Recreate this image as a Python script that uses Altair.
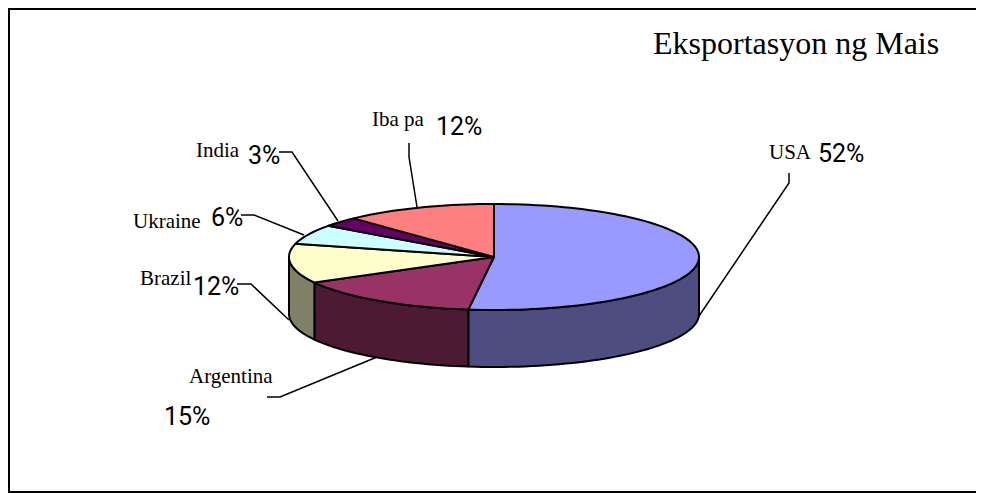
import numpy as np
import altair as alt

names = ["USA", "Argentina", "Brazil", "Ukraine", "India", "Iba pa"]
shares = [52, 15, 12, 6, 3, 12]
top_colors = ["#9999FF", "#993366", "#FFFFCC", "#CCFFFF", "#660066", "#FF8080"]
side_colors = ["#4D4D80", "#4D1A33", "#808066", "#668080", "#330033", "#804040"]
title_text = "Eksportasyon ng Mais"

MARGIN = 8
CX, CY = 494 - MARGIN, 257 - MARGIN
RX, RY, DEPTH = 205.0, 53.0, 57.0
K = RY / RX
D = DEPTH / RX

name_x = [769, 189, 140, 133, 196, 372]
name_y = [159, 383, 285, 228, 157, 126]
pct_x = [818, 164, 193, 211, 248, 436]
pct_y = [162, 425, 295, 226, 164, 135]
leaders = [
    [(789, 173), (789, 183), (699, 316)],
    [(267, 397), (280, 397), (377, 357)],
    [(237, 284), (251, 284), (289, 320)],
    [(241, 215), (254, 215), (304, 235)],
    [(279, 152), (292, 152), (338, 221)],
    [(409, 143), (409, 157), (417, 207)],
]


def rim(a0, a1, drop=0.0):
    n = max(2, int(abs(a1 - a0) / 2) + 2)
    return [[float(np.sin(np.radians(a))), float(K * np.cos(np.radians(a)) - drop)]
            for a in np.linspace(a0, a1, n)]


edges = np.cumsum([0] + shares) * 3.6
tops, sides = [], []
for i, nm in enumerate(names):
    a0, a1 = edges[i], edges[i + 1]
    ring = [[0.0, 0.0]] + rim(a0, a1) + [[0.0, 0.0]]
    tops.append({"type": "Feature", "properties": {"name": nm, "fill": top_colors[i]},
                 "geometry": {"type": "Polygon", "coordinates": [ring]}})
    s0, s1 = max(a0, 90.0), min(a1, 270.0)
    if s0 < s1:
        up = rim(s0, s1)
        down = rim(s1, s0, D)
        sides.append({"type": "Feature", "properties": {"name": nm, "fill": side_colors[i]},
                      "geometry": {"type": "Polygon", "coordinates": [up + down + [up[0]]]}})


def pie_layer(features):
    return alt.Chart(alt.Data(values=features)).mark_geoshape(
        stroke="black", strokeWidth=2, strokeJoin="round"
    ).encode(fill=alt.Fill("properties.fill:N", scale=None)).project(
        type="identity", reflectY=True, scale=RX, translate=[CX, CY]
    )


line_rows = []
for nm, pts in zip(names, leaders):
    for j, (px, py) in enumerate(pts):
        line_rows.append({"name": nm, "j": j, "x": px - MARGIN, "y": py - MARGIN})

leader_layer = alt.Chart(alt.Data(values=line_rows)).mark_line(
    color="black", strokeWidth=1.5
).encode(
    x=alt.X("x:Q", scale=None, axis=None),
    y=alt.Y("y:Q", scale=None, axis=None),
    detail="name:N",
    order="j:Q",
)

name_rows = [{"t": n, "x": x - MARGIN, "y": y - MARGIN} for n, x, y in zip(names, name_x, name_y)]
pct_rows = [{"t": f"{s}%", "x": x - MARGIN, "y": y - MARGIN} for s, x, y in zip(shares, pct_x, pct_y)]
title_rows = [{"t": title_text, "x": 653 - MARGIN, "y": 54 - MARGIN}]


def text_layer(rows, font, size):
    return alt.Chart(alt.Data(values=rows)).mark_text(
        font=font, fontSize=size, align="left", baseline="alphabetic", color="black"
    ).encode(
        x=alt.X("x:Q", scale=None, axis=None),
        y=alt.Y("y:Q", scale=None, axis=None),
        text="t:N",
    )


W, H = 968, 485
frame_rows = [
    {"x": 0, "x2": W, "y": 1, "y2": 1},
    {"x": 1, "x2": 1, "y": 0, "y2": H},
    {"x": 0, "x2": W, "y": H - 1, "y2": H - 1},
]
frame = alt.Chart(alt.Data(values=frame_rows)).mark_rule(color="black", strokeWidth=2).encode(
    x=alt.X("x:Q", scale=None, axis=None),
    x2="x2:Q",
    y=alt.Y("y:Q", scale=None, axis=None),
    y2="y2:Q",
)

chart = alt.layer(
    frame,
    leader_layer,
    pie_layer(sides),
    pie_layer(tops),
    text_layer(name_rows, "Liberation Serif", 21),
    text_layer(pct_rows, "Roboto", 25),
    text_layer(title_rows, "Liberation Serif", 32),
).properties(
    width=W, height=H, padding=0, background="white",
    autosize=alt.AutoSizeParams(type="none"),
).configure_view(stroke=None)

chart.save("out.html", embed_options={"renderer": "svg", "actions": False})
